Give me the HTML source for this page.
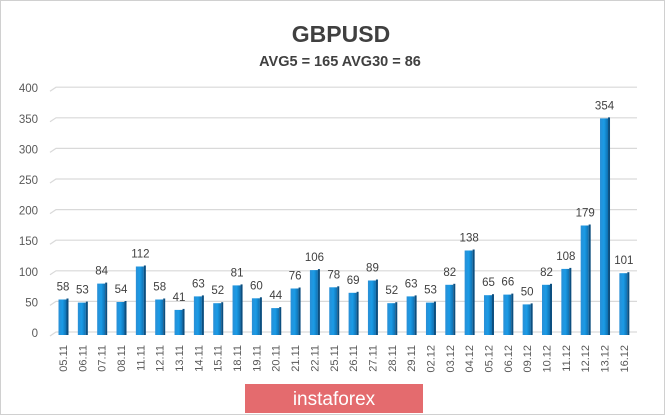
<!DOCTYPE html>
<html><head><meta charset="utf-8"><style>
html,body{margin:0;padding:0;background:#fff;}
svg{display:block;font-family:"Liberation Sans",sans-serif;}
.v{font-size:11.5px;fill:#404040;text-anchor:middle}
.x{font-size:11px;fill:#595959;text-anchor:end}
</style></head><body>
<svg width="665" height="415" viewBox="0 0 665 415" xmlns="http://www.w3.org/2000/svg">
<defs>
<linearGradient id="bg" x1="0" x2="1" y1="0" y2="0">
<stop offset="0" stop-color="#2a8fd6"/><stop offset="0.5" stop-color="#1a9be6"/><stop offset="1" stop-color="#0f6fb0"/>
</linearGradient>
</defs>
<rect x="0.5" y="0.5" width="664" height="414" fill="#fff" stroke="#d0d0d0"/>
<text x="341" y="42" text-anchor="middle" font-size="23" font-weight="bold" fill="#404040">GBPUSD</text>
<text x="340" y="66" text-anchor="middle" font-size="14.5" font-weight="bold" fill="#404040">AVG5 = 165 AVG30 = 86</text>
<g stroke="#d9d9d9" stroke-width="1.2" fill="none">
<path d="M50 336 L56 332 L637 332"/>
<path d="M50 305.4 L56 301.4 L637 301.4"/>
<path d="M50 274.8 L56 270.8 L637 270.8"/>
<path d="M50 244.2 L56 240.2 L637 240.2"/>
<path d="M50 213.6 L56 209.6 L637 209.6"/>
<path d="M50 183 L56 179 L637 179"/>
<path d="M50 152.4 L56 148.4 L637 148.4"/>
<path d="M50 121.8 L56 117.8 L637 117.8"/>
<path d="M50 91.2 L56 87.2 L637 87.2"/>
</g>
<g font-size="11.5" fill="#595959" text-anchor="end">
<text x="38" y="337">0</text><text x="38" y="306.4">50</text><text x="38" y="275.8">100</text>
<text x="38" y="245.2">150</text><text x="38" y="214.6">200</text><text x="38" y="184">250</text>
<text x="38" y="153.4">300</text><text x="38" y="122.8">350</text><text x="38" y="92.2">400</text>
</g>
<g id="bars">
<g transform="translate(63,0)"><rect x="-4.5" y="299.5" width="8" height="35.5" fill="url(#bg)"/><rect x="3.5" y="298.5" width="2" height="36.5" fill="#0c4f80"/><text class="v" y="290.5">58</text><text class="x" transform="translate(4,345) rotate(-90)">05.11</text></g>
<g transform="translate(82.34,0)"><rect x="-4.5" y="302.6" width="8" height="32.4" fill="url(#bg)"/><rect x="3.5" y="301.6" width="2" height="33.4" fill="#0c4f80"/><text class="v" y="293.6">53</text><text class="x" transform="translate(4,345) rotate(-90)">06.11</text></g>
<g transform="translate(101.68,0)"><rect x="-4.5" y="283.6" width="8" height="51.4" fill="url(#bg)"/><rect x="3.5" y="282.6" width="2" height="52.4" fill="#0c4f80"/><text class="v" y="274.6">84</text><text class="x" transform="translate(4,345) rotate(-90)">07.11</text></g>
<g transform="translate(121.02,0)"><rect x="-4.5" y="302" width="8" height="33" fill="url(#bg)"/><rect x="3.5" y="301" width="2" height="34" fill="#0c4f80"/><text class="v" y="293">54</text><text class="x" transform="translate(4,345) rotate(-90)">08.11</text></g>
<g transform="translate(140.36,0)"><rect x="-4.5" y="266.5" width="8" height="68.5" fill="url(#bg)"/><rect x="3.5" y="265.5" width="2" height="69.5" fill="#0c4f80"/><text class="v" y="257.5">112</text><text class="x" transform="translate(4,345) rotate(-90)">11.11</text></g>
<g transform="translate(159.7,0)"><rect x="-4.5" y="299.5" width="8" height="35.5" fill="url(#bg)"/><rect x="3.5" y="298.5" width="2" height="36.5" fill="#0c4f80"/><text class="v" y="290.5">58</text><text class="x" transform="translate(4,345) rotate(-90)">12.11</text></g>
<g transform="translate(179.04,0)"><rect x="-4.5" y="309.9" width="8" height="25.1" fill="url(#bg)"/><rect x="3.5" y="308.9" width="2" height="26.1" fill="#0c4f80"/><text class="v" y="300.9">41</text><text class="x" transform="translate(4,345) rotate(-90)">13.11</text></g>
<g transform="translate(198.38,0)"><rect x="-4.5" y="296.4" width="8" height="38.6" fill="url(#bg)"/><rect x="3.5" y="295.4" width="2" height="39.6" fill="#0c4f80"/><text class="v" y="287.4">63</text><text class="x" transform="translate(4,345) rotate(-90)">14.11</text></g>
<g transform="translate(217.72,0)"><rect x="-4.5" y="303.2" width="8" height="31.8" fill="url(#bg)"/><rect x="3.5" y="302.2" width="2" height="32.8" fill="#0c4f80"/><text class="v" y="294.2">52</text><text class="x" transform="translate(4,345) rotate(-90)">15.11</text></g>
<g transform="translate(237.06,0)"><rect x="-4.5" y="285.4" width="8" height="49.6" fill="url(#bg)"/><rect x="3.5" y="284.4" width="2" height="50.6" fill="#0c4f80"/><text class="v" y="276.4">81</text><text class="x" transform="translate(4,345) rotate(-90)">18.11</text></g>
<g transform="translate(256.4,0)"><rect x="-4.5" y="298.3" width="8" height="36.7" fill="url(#bg)"/><rect x="3.5" y="297.3" width="2" height="37.7" fill="#0c4f80"/><text class="v" y="289.3">60</text><text class="x" transform="translate(4,345) rotate(-90)">19.11</text></g>
<g transform="translate(275.74,0)"><rect x="-4.5" y="308.1" width="8" height="26.9" fill="url(#bg)"/><rect x="3.5" y="307.1" width="2" height="27.9" fill="#0c4f80"/><text class="v" y="299.1">44</text><text class="x" transform="translate(4,345) rotate(-90)">20.11</text></g>
<g transform="translate(295.08,0)"><rect x="-4.5" y="288.5" width="8" height="46.5" fill="url(#bg)"/><rect x="3.5" y="287.5" width="2" height="47.5" fill="#0c4f80"/><text class="v" y="279.5">76</text><text class="x" transform="translate(4,345) rotate(-90)">21.11</text></g>
<g transform="translate(314.42,0)"><rect x="-4.5" y="270.1" width="8" height="64.9" fill="url(#bg)"/><rect x="3.5" y="269.1" width="2" height="65.9" fill="#0c4f80"/><text class="v" y="261.1">106</text><text class="x" transform="translate(4,345) rotate(-90)">22.11</text></g>
<g transform="translate(333.76,0)"><rect x="-4.5" y="287.3" width="8" height="47.7" fill="url(#bg)"/><rect x="3.5" y="286.3" width="2" height="48.7" fill="#0c4f80"/><text class="v" y="278.3">78</text><text class="x" transform="translate(4,345) rotate(-90)">25.11</text></g>
<g transform="translate(353.1,0)"><rect x="-4.5" y="292.8" width="8" height="42.2" fill="url(#bg)"/><rect x="3.5" y="291.8" width="2" height="43.2" fill="#0c4f80"/><text class="v" y="283.8">69</text><text class="x" transform="translate(4,345) rotate(-90)">26.11</text></g>
<g transform="translate(372.44,0)"><rect x="-4.5" y="280.5" width="8" height="54.5" fill="url(#bg)"/><rect x="3.5" y="279.5" width="2" height="55.5" fill="#0c4f80"/><text class="v" y="271.5">89</text><text class="x" transform="translate(4,345) rotate(-90)">27.11</text></g>
<g transform="translate(391.78,0)"><rect x="-4.5" y="303.2" width="8" height="31.8" fill="url(#bg)"/><rect x="3.5" y="302.2" width="2" height="32.8" fill="#0c4f80"/><text class="v" y="294.2">52</text><text class="x" transform="translate(4,345) rotate(-90)">28.11</text></g>
<g transform="translate(411.12,0)"><rect x="-4.5" y="296.4" width="8" height="38.6" fill="url(#bg)"/><rect x="3.5" y="295.4" width="2" height="39.6" fill="#0c4f80"/><text class="v" y="287.4">63</text><text class="x" transform="translate(4,345) rotate(-90)">29.11</text></g>
<g transform="translate(430.46,0)"><rect x="-4.5" y="302.6" width="8" height="32.4" fill="url(#bg)"/><rect x="3.5" y="301.6" width="2" height="33.4" fill="#0c4f80"/><text class="v" y="293.6">53</text><text class="x" transform="translate(4,345) rotate(-90)">02.12</text></g>
<g transform="translate(449.8,0)"><rect x="-4.5" y="284.8" width="8" height="50.2" fill="url(#bg)"/><rect x="3.5" y="283.8" width="2" height="51.2" fill="#0c4f80"/><text class="v" y="275.8">82</text><text class="x" transform="translate(4,345) rotate(-90)">03.12</text></g>
<g transform="translate(469.14,0)"><rect x="-4.5" y="250.5" width="8" height="84.5" fill="url(#bg)"/><rect x="3.5" y="249.5" width="2" height="85.5" fill="#0c4f80"/><text class="v" y="241.5">138</text><text class="x" transform="translate(4,345) rotate(-90)">04.12</text></g>
<g transform="translate(488.48,0)"><rect x="-4.5" y="295.2" width="8" height="39.8" fill="url(#bg)"/><rect x="3.5" y="294.2" width="2" height="40.8" fill="#0c4f80"/><text class="v" y="286.2">65</text><text class="x" transform="translate(4,345) rotate(-90)">05.12</text></g>
<g transform="translate(507.82,0)"><rect x="-4.5" y="294.6" width="8" height="40.4" fill="url(#bg)"/><rect x="3.5" y="293.6" width="2" height="41.4" fill="#0c4f80"/><text class="v" y="285.6">66</text><text class="x" transform="translate(4,345) rotate(-90)">06.12</text></g>
<g transform="translate(527.16,0)"><rect x="-4.5" y="304.4" width="8" height="30.6" fill="url(#bg)"/><rect x="3.5" y="303.4" width="2" height="31.6" fill="#0c4f80"/><text class="v" y="295.4">50</text><text class="x" transform="translate(4,345) rotate(-90)">09.12</text></g>
<g transform="translate(546.5,0)"><rect x="-4.5" y="284.8" width="8" height="50.2" fill="url(#bg)"/><rect x="3.5" y="283.8" width="2" height="51.2" fill="#0c4f80"/><text class="v" y="275.8">82</text><text class="x" transform="translate(4,345) rotate(-90)">10.12</text></g>
<g transform="translate(565.84,0)"><rect x="-4.5" y="268.9" width="8" height="66.1" fill="url(#bg)"/><rect x="3.5" y="267.9" width="2" height="67.1" fill="#0c4f80"/><text class="v" y="259.9">108</text><text class="x" transform="translate(4,345) rotate(-90)">11.12</text></g>
<g transform="translate(585.18,0)"><rect x="-4.5" y="225.5" width="8" height="109.5" fill="url(#bg)"/><rect x="3.5" y="224.5" width="2" height="110.5" fill="#0c4f80"/><text class="v" y="216.5">179</text><text class="x" transform="translate(4,345) rotate(-90)">12.12</text></g>
<g transform="translate(604.52,0)"><rect x="-4.5" y="118.4" width="8" height="216.6" fill="url(#bg)"/><rect x="3.5" y="117.4" width="2" height="217.6" fill="#0c4f80"/><text class="v" y="109.4">354</text><text class="x" transform="translate(4,345) rotate(-90)">13.12</text></g>
<g transform="translate(623.86,0)"><rect x="-4.5" y="273.2" width="8" height="61.8" fill="url(#bg)"/><rect x="3.5" y="272.2" width="2" height="62.8" fill="#0c4f80"/><text class="v" y="264.2">101</text><text class="x" transform="translate(4,345) rotate(-90)">16.12</text></g>
</g>
<rect x="245" y="384" width="178" height="29" fill="#e46b6e"/>
<text x="334" y="405" text-anchor="middle" font-size="19" fill="#fff">instaforex</text>
</svg>
</body></html>
